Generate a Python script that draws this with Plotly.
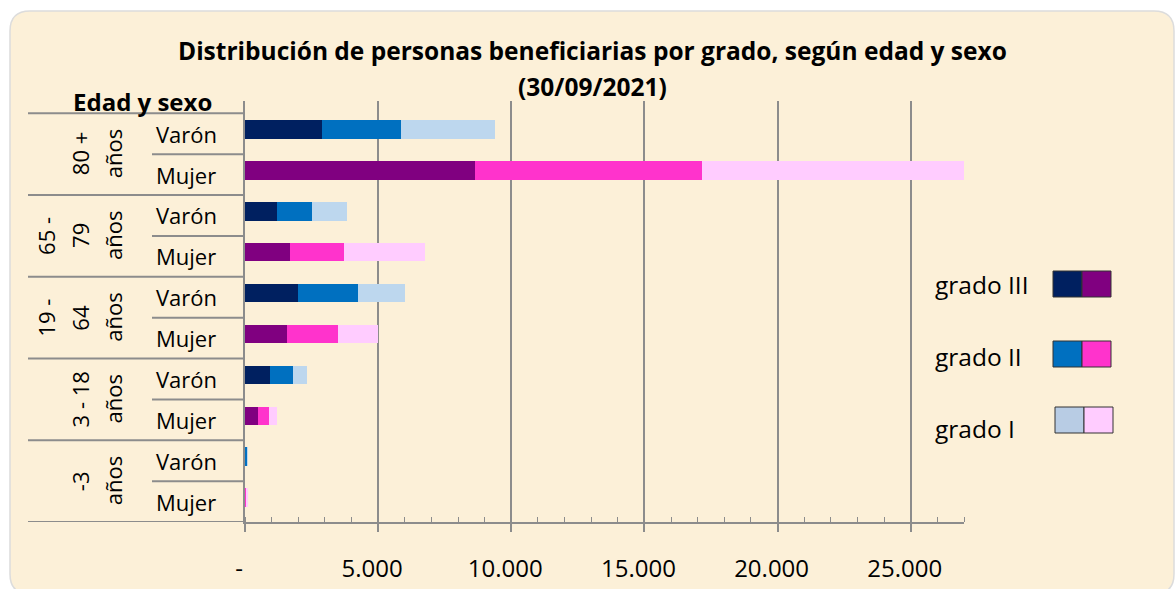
import plotly.graph_objects as go

# ---------------- data ----------------
group_labels = [["80 +", "años"], ["65 -", "79", "años"], ["19 -", "64", "años"],
                ["3 - 18", "años"], ["-3", "años"]]
sex_labels = ["Varón", "Mujer"]
grades = ["grado III", "grado II", "grado I"]
# row order: 80+ V, 80+ M, 65-79 V, 65-79 M, 19-64 V, 19-64 M, 3-18 V, 3-18 M, -3 V, -3 M
grado_III = [2900, 8650, 1200, 1690, 1990, 1580, 940, 500, 30, 25]
grado_II = [2970, 8500, 1320, 2030, 2260, 1920, 860, 400, 50, 40]
grado_I = [3530, 9850, 1300, 3030, 1760, 1500, 530, 300, 20, 15]
colors_varon = ["#002060", "#0070c0", "#bdd7ee"]
colors_mujer = ["#800080", "#ff33cc", "#ffccff"]
legend_varon = ["#002060", "#0070c0", "#b8cce4"]
x_tickvals = [0, 5000, 10000, 15000, 20000, 25000]
x_ticktext = ["-", "5.000", "10.000", "15.000", "20.000", "25.000"]
title_lines = ["Distribución de personas beneficiarias por grado, según edad y sexo", "(30/09/2021)"]
table_header = "Edad y sexo"

# ---------------- geometry (page pixels) ----------------
W, H = 1176, 589
L, R, T, B = 245, 964, 101, 522
FONT = "Open Sans"
GRID = "#8c8c8c"


def px(x):
    return (x - L) / (R - L)


def py(y):
    return (B - y) / (B - T)


n_rows = len(grado_III)
rows = list(range(n_rows))
ypos = [r - 0.1 for r in rows]
row_colors = [[(colors_varon if r % 2 == 0 else colors_mujer)[g] for r in rows] for g in range(3)]

fig = go.Figure()
for g, vals in enumerate([grado_III, grado_II, grado_I]):
    fig.add_trace(go.Bar(
        x=vals, y=ypos, orientation="h", name=grades[g], width=0.45,
        marker=dict(color=row_colors[g], line=dict(width=0)),
        showlegend=False,
    ))

shapes = []
# card background
x0, y0, x1, y1, rr = 10, 11, 1174, 594, 20
path = (f"M {px(x0+rr)},{py(y0)} L {px(x1-rr)},{py(y0)} Q {px(x1)},{py(y0)} {px(x1)},{py(y0+rr)} "
        f"L {px(x1)},{py(y1-rr)} Q {px(x1)},{py(y1)} {px(x1-rr)},{py(y1)} L {px(x0+rr)},{py(y1)} "
        f"Q {px(x0)},{py(y1)} {px(x0)},{py(y1-rr)} L {px(x0)},{py(y0+rr)} Q {px(x0)},{py(y0)} {px(x0+rr)},{py(y0)} Z")
shapes.append(dict(type="path", path=path, xref="paper", yref="paper", layer="below",
                   fillcolor="#fcf0d8", line=dict(color="#dcdcdc", width=1.5)))

# table lines
for k in range(len(group_labels) + 1):
    shapes.append(dict(type="line", xref="paper", yref="y", x0=px(28), x1=0, y0=2 * k - 0.5, y1=2 * k - 0.5,
                       line=dict(color=GRID, width=2)))
for k in range(len(group_labels)):
    shapes.append(dict(type="line", xref="paper", yref="y", x0=px(152), x1=0, y0=2 * k + 0.5, y1=2 * k + 0.5,
                       line=dict(color=GRID, width=2)))

# legend swatches
sw = [(1053, 271), (1053, 341), (1055, 407)]
for g in range(3):
    sx, sy = sw[g]
    for j, col in enumerate([legend_varon[g], colors_mujer[g]]):
        shapes.append(dict(type="rect", xref="paper", yref="paper",
                           x0=px(sx + j * 29), x1=px(sx + (j + 1) * 29), y0=py(sy + 26), y1=py(sy),
                           fillcolor=col, line=dict(color="#333333", width=1)))

annotations = []


def ann(text, x, y, size, yref="paper", **kw):
    d = dict(text=text, xref="paper", yref=yref, x=x, y=y, showarrow=False,
             xanchor=kw.pop("xanchor", "center"), yanchor="middle",
             font=dict(family=FONT, size=size, color="black"))
    d.update(kw)
    annotations.append(d)


ann(f"<b>{title_lines[0]}</b>", px(592), py(50), 24.5)
ann(f"<b>{title_lines[1]}</b>", px(592), py(86), 24.5)
ann(f"<b>{table_header}</b>", px(142), py(101), 24)
for r in rows:
    ann(sex_labels[r % 2], px(154), r, 22, yref="y", xanchor="left")
line_x = [113, 80, 46]
for k, lines in enumerate(group_labels):
    for i, t in enumerate(lines):
        xx = line_x[len(lines) - 1 - i]
        ann(t, px(xx), 2 * k + 0.5, 22, yref="y", textangle=-90)
leg_y = [284, 356, 428]
for g in range(3):
    ann(grades[g], px(933), py(leg_y[g]), 24.5, xanchor="left")

fig.update_layout(
    width=W, height=H, autosize=False,
    margin=dict(l=L, r=W - R, t=T, b=H - B, pad=0, autoexpand=False),
    paper_bgcolor="white", plot_bgcolor="rgba(0,0,0,0)",
    barmode="stack", bargap=0,
    shapes=shapes, annotations=annotations,
    xaxis=dict(range=[0, 27000], tickvals=x_tickvals, ticktext=x_ticktext, automargin=False,
               showgrid=True, gridcolor=GRID, gridwidth=2, zeroline=False,
               showline=True, linecolor=GRID, linewidth=2,
               ticks="outside", ticklen=8, tickcolor=GRID, tickwidth=2,
               minor=dict(dtick=1000, ticks="inside", ticklen=5, tickcolor=GRID, tickwidth=1, showgrid=False),
               tickfont=dict(family=FONT, size=24, color="black"),
               ticklabelstandoff=16, ticklabelshift=-6),
    yaxis=dict(range=[9.5, -0.8], showticklabels=False, showgrid=False, zeroline=False, automargin=False,
               showline=True, linecolor=GRID, linewidth=2),
    font=dict(family=FONT),
)

fig.write_html("out.html", config={"displayModeBar": False},
               post_script="document.body.style.margin='0';document.body.style.overflow='hidden';")
